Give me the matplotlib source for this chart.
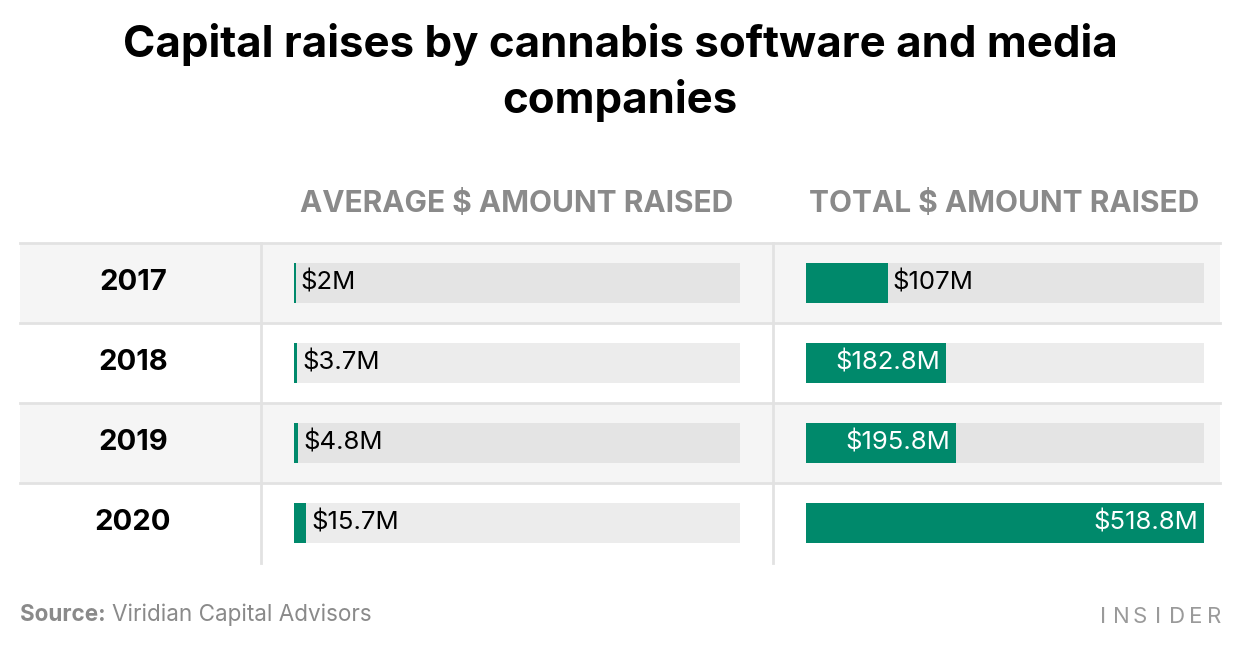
import numpy as np
import matplotlib.pyplot as plt
from matplotlib.patches import Rectangle

# Data_________________________________________________________________________
years = ["2017", "2018", "2019", "2020"]
avg_raised = [2.0, 3.7, 4.8, 15.7]          # $M
total_raised = [107.0, 182.8, 195.8, 518.8]  # $M
avg_labels = ["$2M", "$3.7M", "$4.8M", "$15.7M"]
total_labels = ["$107M", "$182.8M", "$195.8M", "$518.8M"]

GREEN = "#00896b"
GRAY_TXT = "#8a8a8a"
LINE = "#e2e2e2"
SHADE = "#f5f5f5"
TRACK_SHADE = "#e4e4e4"
TRACK_WHITE = "#ececec"

plt.rcParams['font.family'] = ['Inter', 'DejaVu Sans']

W, H = 1240, 652
fig = plt.figure(figsize=(W / 100, H / 100), dpi=100)

# background axes in pixel coordinates (layout only)
bg = fig.add_axes([0, 0, 1, 1])
bg.set_xlim(0, W)
bg.set_ylim(H, 0)
bg.axis("off")

top, row_h = 243, 80
n = len(years)
for i in range(n):
    y0 = top + i * row_h
    if i % 2 == 0:
        bg.add_patch(Rectangle((20, y0), 1200, row_h, color=SHADE, lw=0, zorder=0))
    bg.plot([20, 1220], [y0, y0], color=LINE, lw=2, zorder=1)
    bg.text(133, y0 + row_h / 2, years[i], ha="center", va="center",
            fontsize=21, fontweight="bold", color="black")
for x in (261, 773):
    bg.plot([x, x], [top, top + n * row_h], color=LINE, lw=2, zorder=1)

# titles
bg.text(620, 45, "Capital raises by cannabis software and media", ha="center",
        va="center", fontsize=31.5, fontweight="bold")
bg.text(620, 101, "companies", ha="center", va="center", fontsize=31.5,
        fontweight="bold")
bg.text(517, 204, "AVERAGE $ AMOUNT RAISED", ha="center", va="center",
        fontsize=21.5, fontweight="bold", color=GRAY_TXT)
bg.text(1004, 204, "TOTAL $ AMOUNT RAISED", ha="center", va="center",
        fontsize=21.5, fontweight="bold", color=GRAY_TXT)

# footer
src = bg.text(20, 615, "Source:", ha="left", va="center", fontsize=16.2,
              fontweight="bold", color=GRAY_TXT)
fig.canvas.draw()
bb = src.get_window_extent()
bg.text(bb.x1 + 6, 615, "Viridian Capital Advisors", ha="left", va="center",
        fontsize=16.2, color=GRAY_TXT)
for k, ch in enumerate("INSIDER"):
    bg.text(1103 + k * 18.5, 617, ch, ha="center", va="center", fontsize=16,
            color="#9a9a9a")


def bar_panel(x0, width, values, labels, xmax):
    ax = fig.add_axes([x0 / W, (H - top - n * row_h) / H, width / W, n * row_h / H])
    ax.set_xlim(0, xmax)
    ax.set_ylim(n - 0.5, -0.5)
    ax.axis("off")
    ax.patch.set_alpha(0)
    pos = np.arange(n)
    tracks = [TRACK_SHADE if i % 2 == 0 else TRACK_WHITE for i in pos]
    ax.barh(pos, [xmax] * n, height=0.5, color=tracks, lw=0)
    ax.barh(pos, values, height=0.5, color=GREEN, lw=0)
    for i, (v, lab) in enumerate(zip(values, labels)):
        if v > 0.3 * xmax:
            ax.text(v - 0.015 * xmax, i, lab, ha="right", va="center",
                    fontsize=18.5, color="white")
        else:
            ax.text(v + 0.012 * xmax, i, lab, ha="left", va="center",
                    fontsize=18.5, color="black")
    return ax


bar_panel(294, 446, avg_raised, avg_labels, 580)
bar_panel(806, 398, total_raised, total_labels, max(total_raised))

fig.savefig("out.png", dpi=100)
